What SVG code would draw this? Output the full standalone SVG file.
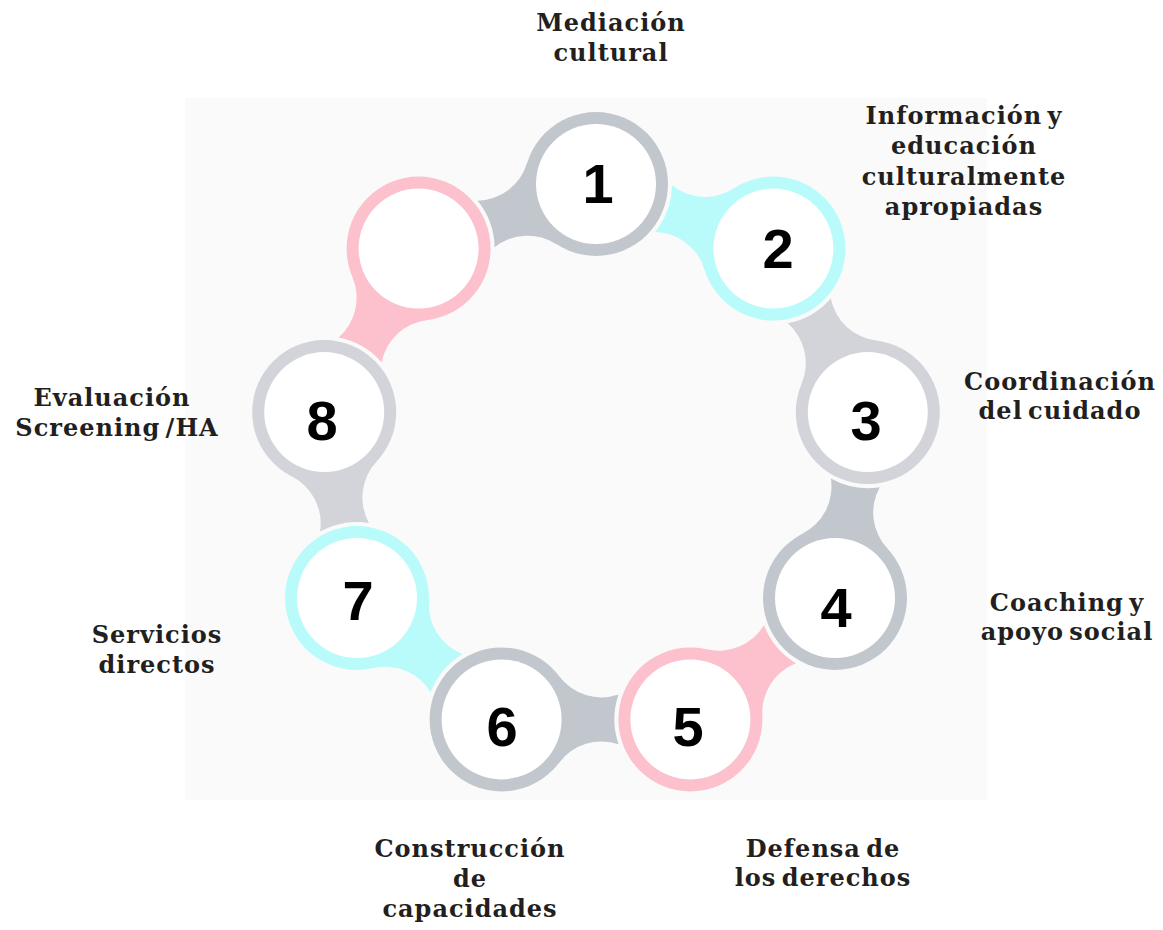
<svg xmlns="http://www.w3.org/2000/svg" xmlns:xlink="http://www.w3.org/1999/xlink" width="1163" height="930" viewBox="0 0 1163 930">
<style>
.lbl{font-family:"DejaVu Serif","Liberation Serif",serif;font-weight:bold;font-size:24px;letter-spacing:1px;word-spacing:-4px;fill:#231f20;text-anchor:middle}
.num{font-family:"Liberation Sans",Arial,sans-serif;font-weight:bold;font-size:56px;fill:#000;text-anchor:middle}
.hole{fill:#fff}
.gray{fill:#c2c7cd}
.lgray{fill:#d2d4d9}
.pink{fill:#fdc1ce}
.cyan{fill:#b8fbfa}
</style>
<defs>
<path id="tail" d="M57.6,-43.2 A53,53 0 0 0 116.95,-24.8 A76,76 0 0 0 116.95,24.8 A53,53 0 0 0 57.6,43.2 Z"/>
</defs>
<rect x="185" y="98" width="802" height="702" fill="#fafafa"/>
<g id="connectors">
<use xlink:href="#tail" class="gray" transform="translate(596,184) rotate(160)"/>
<use xlink:href="#tail" class="cyan" transform="translate(773.4,248.6) rotate(200)"/>
<use xlink:href="#tail" class="lgray" transform="translate(867.8,412.1) rotate(-120)"/>
<use xlink:href="#tail" class="gray" transform="translate(835,598) rotate(-80)"/>
<use xlink:href="#tail" class="pink" transform="translate(690.4,719.4) rotate(-40)"/>
<use xlink:href="#tail" class="gray" transform="translate(501.6,719.4) rotate(0)"/>
<use xlink:href="#tail" class="cyan" transform="translate(357,598) rotate(40)"/>
<use xlink:href="#tail" class="lgray" transform="translate(324.2,412.1) rotate(80)"/>
<use xlink:href="#tail" class="pink" transform="translate(418.6,248.6) rotate(120)"/>
</g>
<g id="node1"><circle class="gray" cx="596" cy="184" r="72"/><circle class="hole" cx="596" cy="184" r="60"/><text class="num" x="598" y="203">1</text></g>
<g id="node2"><circle class="cyan" cx="773.4" cy="248.6" r="72"/><circle class="hole" cx="773.4" cy="248.6" r="60"/><text class="num" x="778" y="268">2</text></g>
<g id="node3"><circle class="lgray" cx="867.8" cy="412.1" r="72"/><circle class="hole" cx="867.8" cy="412.1" r="60"/><text class="num" x="866" y="440">3</text></g>
<g id="node4"><circle class="gray" cx="835" cy="598" r="72"/><circle class="hole" cx="835" cy="598" r="60"/><text class="num" x="836" y="627">4</text></g>
<g id="node5"><circle class="pink" cx="690.4" cy="719.4" r="72"/><circle class="hole" cx="690.4" cy="719.4" r="60"/><text class="num" x="688" y="746">5</text></g>
<g id="node6"><circle class="gray" cx="501.6" cy="719.4" r="72"/><circle class="hole" cx="501.6" cy="719.4" r="60"/><text class="num" x="502" y="746">6</text></g>
<g id="node7"><circle class="cyan" cx="357" cy="598" r="72"/><circle class="hole" cx="357" cy="598" r="60"/><text class="num" x="358" y="620">7</text></g>
<g id="node8"><circle class="lgray" cx="324.2" cy="412.1" r="72"/><circle class="hole" cx="324.2" cy="412.1" r="60"/><text class="num" x="322" y="440">8</text></g>
<g id="node9"><circle class="pink" cx="418.6" cy="248.6" r="72"/><circle class="hole" cx="418.6" cy="248.6" r="60"/></g>
<g id="labels">
<text class="lbl" x="611" y="31">Mediación</text>
<text class="lbl" x="611" y="61">cultural</text>
<text class="lbl" x="964" y="124">Información y</text>
<text class="lbl" x="964" y="154">educación</text>
<text class="lbl" x="964" y="185">culturalmente</text>
<text class="lbl" x="964" y="215">apropiadas</text>
<text class="lbl" x="1060" y="390">Coordinación</text>
<text class="lbl" x="1060" y="419">del cuidado</text>
<text class="lbl" x="1067" y="611">Coaching y</text>
<text class="lbl" x="1067" y="640">apoyo social</text>
<text class="lbl" x="112" y="406">Evaluación</text>
<text class="lbl" x="117" y="436">Screening /HA</text>
<text class="lbl" x="157" y="643">Servicios</text>
<text class="lbl" x="157" y="673">directos</text>
<text class="lbl" x="470" y="857">Construcción</text>
<text class="lbl" x="470" y="887">de</text>
<text class="lbl" x="470" y="917">capacidades</text>
<text class="lbl" x="823" y="857">Defensa de</text>
<text class="lbl" x="823" y="886">los derechos</text>
</g>
</svg>
